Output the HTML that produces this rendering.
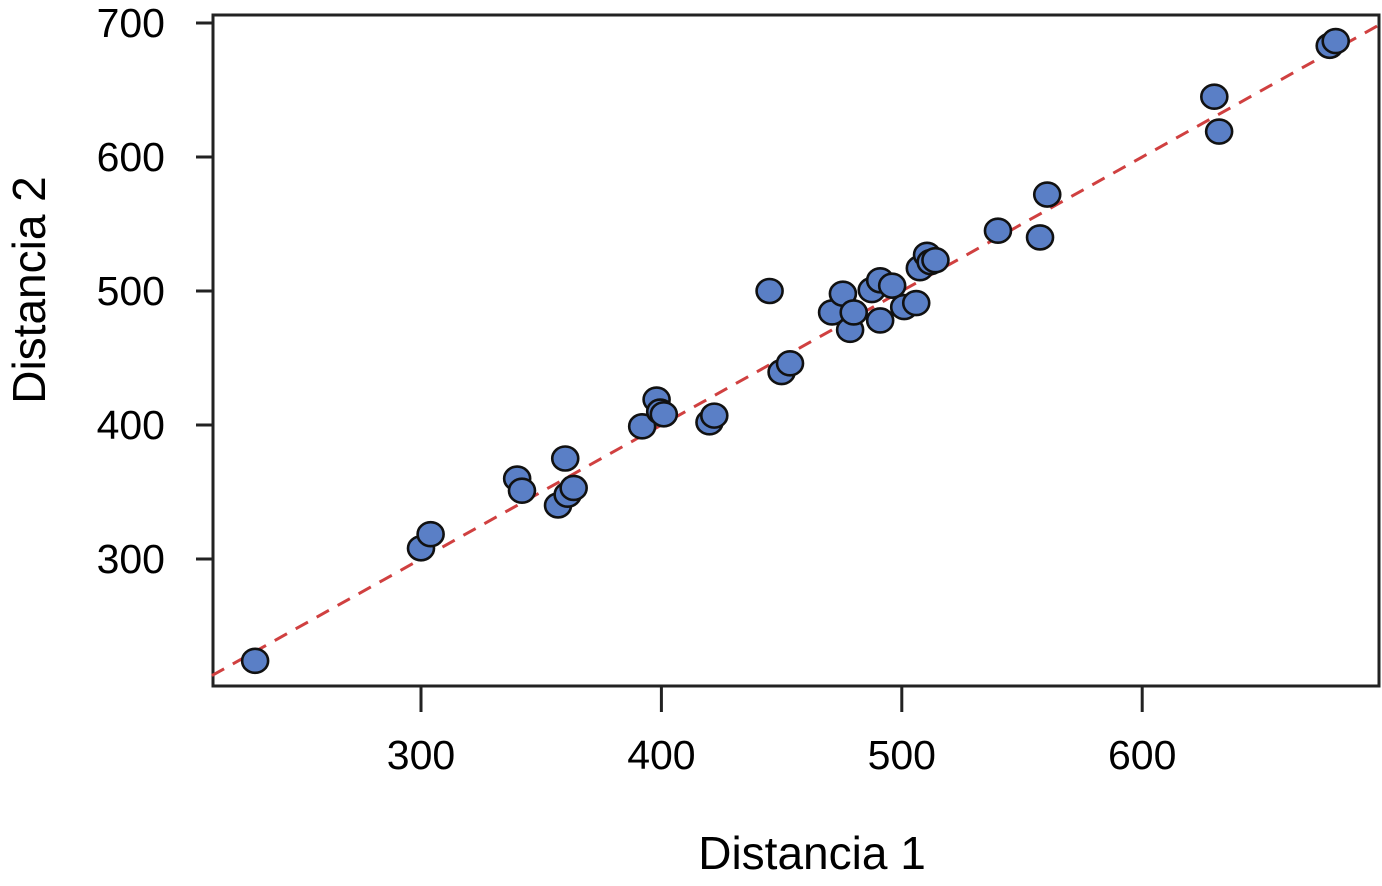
<!DOCTYPE html>
<html><head><meta charset="utf-8"><style>
html,body{margin:0;padding:0;background:#fff;}
svg text{font-family:"Liberation Sans",Arial,sans-serif;fill:#000;}
</style></head><body>
<svg id="chart" width="1382" height="881" viewBox="0 0 1382 881" xmlns="http://www.w3.org/2000/svg">
<rect x="213" y="15" width="1166" height="671" fill="#fff" stroke="#222" stroke-width="3"/>
<g id="grid"></g>
<g id="refline"></g>
<g id="points"></g>
<text x="812" y="869" font-size="46" text-anchor="middle">Distancia 1</text>
<text transform="translate(45,290) rotate(-90)" font-size="46" text-anchor="middle">Distancia 2</text>
</svg>
<script>
const xTicks = [300, 400, 500, 600];
const yTicks = [300, 400, 500, 600, 700];
const xValues = [231,300,304,340,342,360,357,361,363.5,392,398,399.5,401,420,422,445,450,453.5,471,475.5,478.5,480,487.5,491,491,496,501,506,507.5,510.5,512,514,540,557.5,560.5,630,632,678,680.5];
const yValues = [224,308,318.5,360,351,375,340,348,353,399,419,410,408,402,407,500,439.5,446,484,498,471,484,500.7,508,478,504,488,491,517,527,521.6,523,545,540,572,645,619,683,686.5];
const refLine = [213, 700];

const ns = "http://www.w3.org/2000/svg";
function xs(v){ return 421 + (v - 300) * 2.404; }
function ys(v){ return 559 - (v - 300) * 1.34; }
const grid = document.getElementById('grid');
xTicks.forEach(t => {
  const l = document.createElementNS(ns, 'line');
  l.setAttribute('x1', xs(t)); l.setAttribute('x2', xs(t));
  l.setAttribute('y1', 686); l.setAttribute('y2', 712);
  l.setAttribute('stroke', '#222'); l.setAttribute('stroke-width', 3);
  
  
  grid.appendChild(l);
  const tx = document.createElementNS(ns, 'text');
  tx.setAttribute('x', xs(t)); tx.setAttribute('y', 769);
  tx.setAttribute('font-size', 41); tx.setAttribute('text-anchor', 'middle');
  tx.textContent = t;
  
  
  grid.appendChild(tx);
});
yTicks.forEach(t => {
  const l = document.createElementNS(ns, 'line');
  l.setAttribute('x1', 196); l.setAttribute('x2', 213);
  l.setAttribute('y1', ys(t)); l.setAttribute('y2', ys(t));
  l.setAttribute('stroke', '#222'); l.setAttribute('stroke-width', 3);
  
  
  grid.appendChild(l);
  const tx = document.createElementNS(ns, 'text');
  tx.setAttribute('x', 165); tx.setAttribute('y', ys(t) + 14);
  tx.setAttribute('font-size', 41); tx.setAttribute('text-anchor', 'end');
  tx.textContent = t;
  
  
  grid.appendChild(tx);
});
const rl = document.createElementNS(ns, 'line');
rl.setAttribute('x1', xs(refLine[0])); rl.setAttribute('y1', ys(refLine[0]));
rl.setAttribute('x2', xs(refLine[1])); rl.setAttribute('y2', ys(refLine[1]));
rl.setAttribute('stroke', '#d04040'); rl.setAttribute('stroke-width', 3);
rl.setAttribute('stroke-dasharray', '14 10');


document.getElementById('refline').appendChild(rl);
const pts = document.getElementById('points');
xValues.forEach((v, i) => {
  const c = document.createElementNS(ns, 'ellipse');
  c.setAttribute('cx', xs(v)); c.setAttribute('cy', ys(yValues[i]));
  c.setAttribute('rx', 13); c.setAttribute('ry', 12);
  c.setAttribute('fill', '#5a7fc6'); c.setAttribute('stroke', '#111'); c.setAttribute('stroke-width', 2.6);
  
  
  pts.appendChild(c);
});
</script>
</body></html>
